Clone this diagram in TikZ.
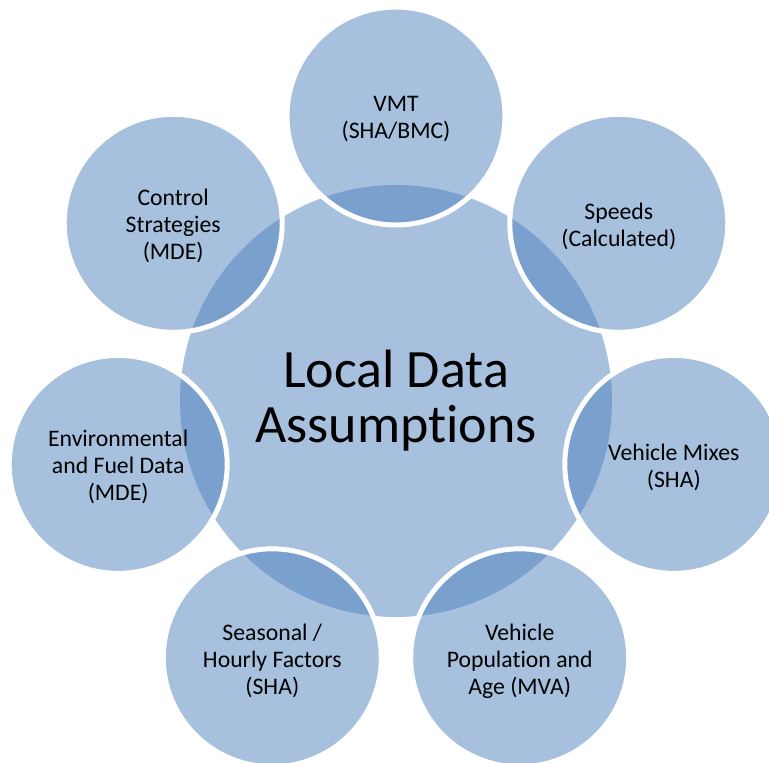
\documentclass[tikz,border=0pt]{standalone}
\usepackage{fontspec}
\setmainfont{Carlito}[Ligatures={NoCommon}]
\definecolor{accent}{HTML}{4F81BD}
\begin{document}
\begin{tikzpicture}[x=0.75pt,y=-0.75pt,
  hub/.style={circle, inner sep=0pt, minimum size=324pt, fill=accent, fill opacity=0.5,
    text opacity=1, font=\fontsize{40.5}{41.25}\selectfont, align=center},
  sat/.style={circle, inner sep=0pt, minimum size=163.5pt, fill=accent, fill opacity=0.5,
    draw=white, draw opacity=1, line width=3.75pt},
  lbl/.style={inner sep=0pt, align=center, yshift=-2.25pt,
    font=\fontsize{17.8}{20.25}\selectfont}]
\useasboundingbox (0,0) rectangle (769,763);
\clip (0,0) rectangle (769,763);
\node[hub] (hub) at (396,401) {Local Data\\Assumptions};
\node[sat] (vmt) at (396,116) {};
\node[sat] (speeds) at (618.8,223.3) {};
\node[sat] (mixes) at (673.8,464.4) {};
\node[sat] (pop) at (519.7,657.8) {};
\node[sat] (seas) at (272.3,657.8) {};
\node[sat] (env) at (118.2,464.4) {};
\node[sat] (ctrl) at (173.2,223.3) {};
\node[lbl] (vmt-t) at (vmt.center) {VMT\\(SHA/BMC)};
\node[lbl] (speeds-t) at (speeds.center) {Speeds\\(Calculated)};
\node[lbl] (mixes-t) at (mixes.center) {Vehicle Mixes\\(SHA)};
\node[lbl] (pop-t) at (pop.center) {Vehicle\\Population and\\Age (MVA)};
\node[lbl] (seas-t) at (seas.center) {Seasonal /\\Hourly Factors\\(SHA)};
\node[lbl] (env-t) at (env.center) {Environmental\\and Fuel Data\\(MDE)};
\node[lbl] (ctrl-t) at (ctrl.center) {Control\\Strategies\\(MDE)};
\end{tikzpicture}
\end{document}
